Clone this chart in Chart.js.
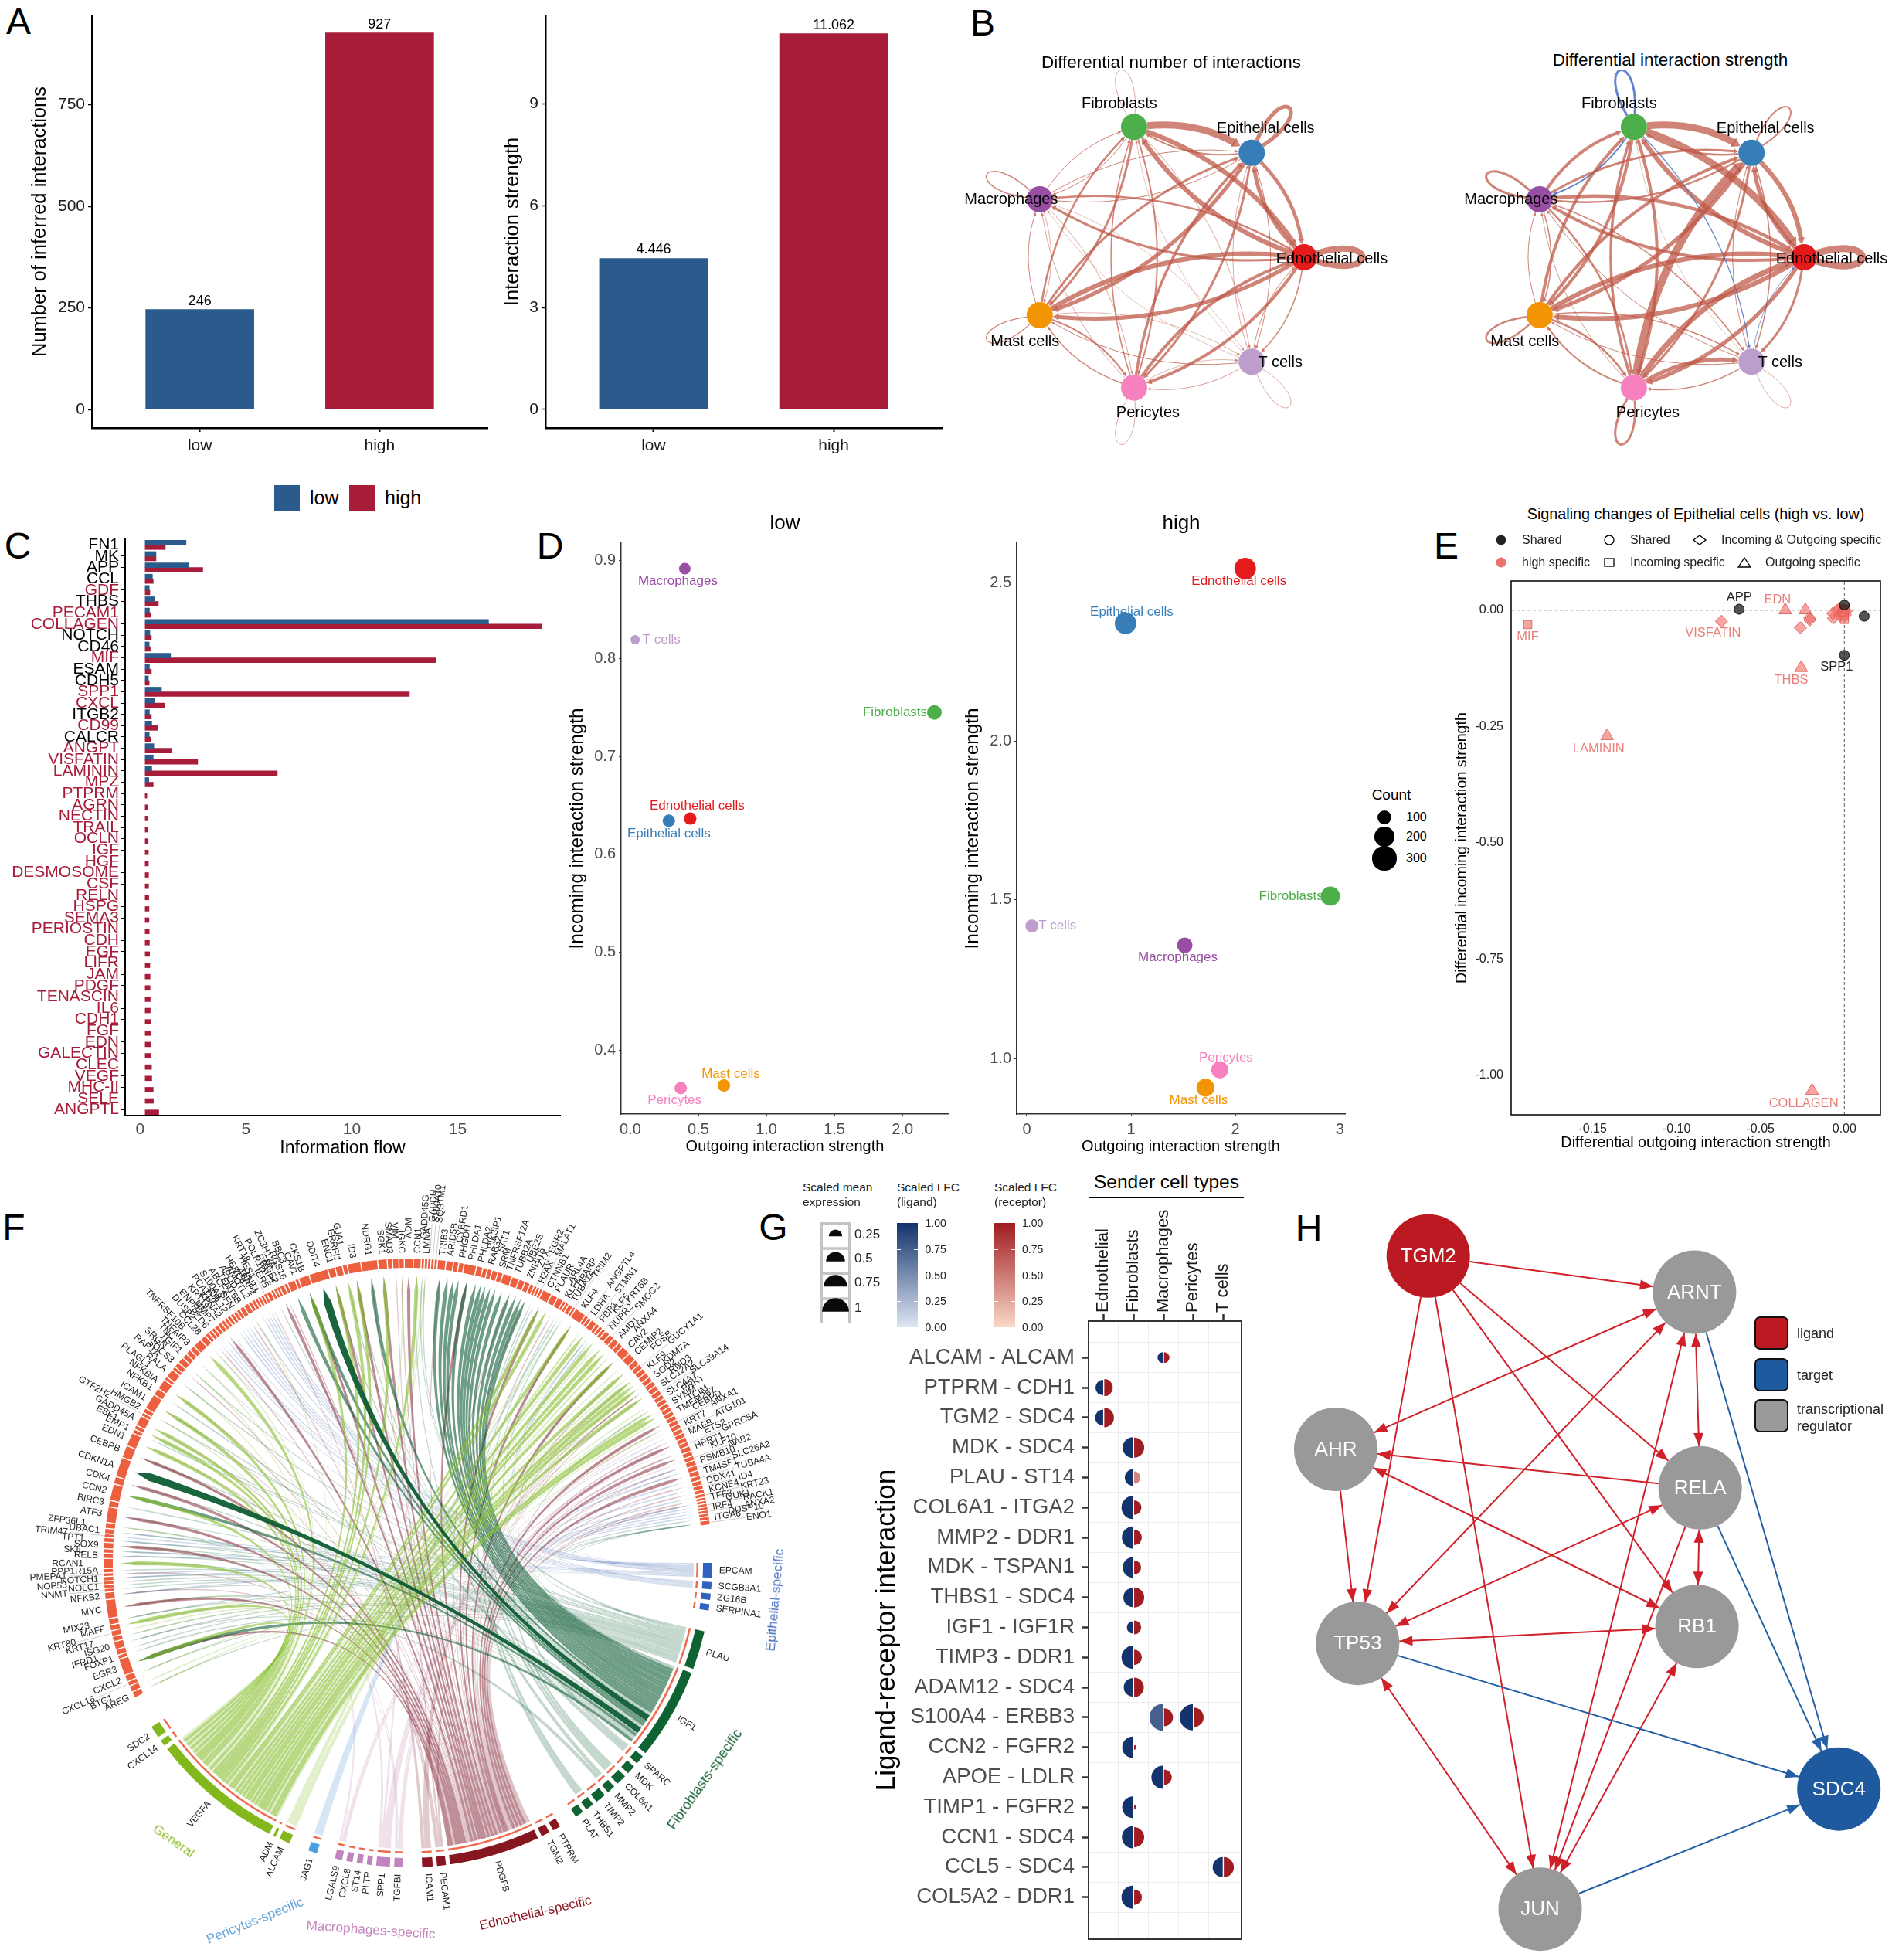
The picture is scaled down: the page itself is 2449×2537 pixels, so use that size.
<!DOCTYPE html>
<html lang="en">
<head>
<meta charset="UTF-8" />
<title>Cell communication panels</title>
<script src="https://cdn.jsdelivr.net/npm/chart.js"></script>
<style>
  html, body { margin: 0; background: #fff; }
  body { position: relative; width: 2449px; height: 2537px; overflow: hidden; font-family: "Liberation Sans", Arial, sans-serif; }
  canvas { position: absolute; }
  .t { position: absolute; white-space: nowrap; line-height: 1; }
</style>
</head>
<body>
<script>
// panel A
const aGroups = ["low", "high"];
const aCounts = [246, 927];
const aStrength = [4.446, 11.062];
const aCountTicks = [0, 250, 500, 750];
const aStrengthTicks = [0, 3, 6, 9];

// panel B, widths read from the edge thickness, negative = blue (decreased)
const cellTypes = ["Ednothelial cells", "Epithelial cells", "Fibroblasts", "Macrophages", "Mast cells", "Pericytes", "T cells"];
const cellColors = ["#E41A1C", "#377EB8", "#4DAF4A", "#984EA3", "#F29403", "#F781BF", "#BC9DCC"];
const diffNumber = [
  [8, 5, 6, 3, 5, 4, 1.5],
  [4.5, 5, 2, 1, 5, 3, 1],
  [6, 9, 0.7, 1, 3, 2, 0.7],
  [2.5, 1, 1, 1.5, 0.7, 0.7, 0.5],
  [6, 3, 2.5, 1, 1.2, 2, 0.6],
  [4, 3.5, 1.5, 0.7, 1.5, 0.7, 0.6],
  [1, 0.7, 0.5, 0.5, 1, 0.8, 0.7]
];
const diffStrength = [
  [9, 5, 6, 4, 6, 5, 3],
  [6, 2, 2.5, 2.5, 5, 3, 1.5],
  [9, 9, -3, -2, 4, 4, -1.2],
  [4.5, 3, 4, 3, 1.5, 2.5, 1.5],
  [6, 4, 4, 1, 2.5, 2.5, 1.5],
  [7, 10, 3.5, 0.8, 2, 3, 5],
  [-0.8, 1, 0.5, 1, 1, 1.5, 0.7]
];

// panel C
const cPathways = ["FN1", "MK", "APP", "CCL", "GDF", "THBS", "PECAM1", "COLLAGEN", "NOTCH", "CD46", "MIF", "ESAM", "CDH5", "SPP1", "CXCL", "ITGB2", "CD99", "CALCR", "ANGPT", "VISFATIN", "LAMININ", "MPZ", "PTPRM", "AGRN", "NECTIN", "TRAIL", "OCLN", "IGF", "HGF", "DESMOSOME", "CSF", "RELN", "HSPG", "SEMA3", "PERIOSTIN", "CDH", "EGF", "LIFR", "JAM", "PDGF", "TENASCIN", "IL6", "CDH1", "FGF", "EDN", "GALECTIN", "CLEC", "VEGF", "MHC-II", "SELE", "ANGPTL"];
const cLow = [1.95, 0.53, 2.07, 0.36, 0.21, 0.47, 0.22, 16.24, 0.24, 0.21, 1.22, 0.22, 0.17, 0.79, 0.47, 0.22, 0.33, 0.21, 0.43, 0.40, 0.33, 0.19];
const cHigh = [0.97, 0.53, 2.74, 0.40, 0.24, 0.64, 0.28, 18.74, 0.31, 0.26, 13.76, 0.31, 0.21, 12.5, 0.95, 0.31, 0.60, 0.29, 1.26, 2.5, 6.26, 0.40, 0.10, 0.13, 0.14, 0.15, 0.16, 0.17, 0.17, 0.18, 0.18, 0.19, 0.20, 0.20, 0.21, 0.22, 0.23, 0.24, 0.25, 0.25, 0.26, 0.26, 0.27, 0.28, 0.30, 0.30, 0.32, 0.33, 0.40, 0.41, 0.66];
const cSharedNames = ["FN1", "MK", "APP", "CCL", "THBS", "NOTCH", "CD46", "ESAM", "CDH5", "ITGB2", "CALCR"];
const cTicks = [0, 5, 10, 15];

// panel D
const dLowOut = [0.44, 0.283, 2.235, 0.40, 0.687, 0.37, 0.035];
const dLowIn = [0.6365, 0.6343, 0.7448, 0.8916, 0.3642, 0.3615, 0.819];
const dLowCount = [80, 80, 110, 70, 80, 80, 45];
const dHighOut = [2.093, 0.947, 2.91, 1.514, 1.713, 1.85, 0.05];
const dHighIn = [2.545, 2.372, 1.512, 1.357, 0.908, 0.9645, 1.418];
const dHighCount = [240, 240, 190, 125, 165, 150, 90];
const dLowXTicks = [0, 0.5, 1, 1.5, 2];
const dLowYTicks = [0.4, 0.5, 0.6, 0.7, 0.8, 0.9];
const dHighXTicks = [0, 1, 2, 3];
const dHighYTicks = [1, 1.5, 2, 2.5];
const countLegend = [100, 200, 300];

// panel E
const eSharedX = [-0.0627, 0, 0, 0.0118];
const eSharedY = [0.002, -0.097, 0.011, -0.013];
const eTriX = [-0.1414, -0.0352, -0.0232, -0.0257, -0.0192];
const eTriY = [-0.2705, 0, 0, -0.124, -1.033];
const eSquareX = [-0.1887, 0, 0, -0.001, 0.0005];
const eSquareY = [-0.031, -0.02, -0.012, -0.005, 0.002];
const eDiamondX = [-0.0732, -0.0262, -0.0206, -0.0206, -0.0065, -0.0069, -0.0042, -0.003, -0.0015, -0.0005, 0.001, -0.0025, 0.0005];
const eDiamondY = [-0.024, -0.038, -0.017, -0.021, -0.017, -0.007, -0.001, 0.003, -0.006, 0.001, -0.002, -0.012, -0.01];
const eXTicks = [-0.15, -0.1, -0.05, 0];
const eYTicks = [-1, -0.75, -0.5, -0.25, 0];

// panel F, ligand sectors in clockwise order
const fEpithelial = ["EPCAM", "SCGB3A1", "ZG16B", "SERPINA1"];
const fEpithelialW = [2.8, 1.4, 1.2, 1.2];
const fFibroblasts = ["PLAU", "IGF1", "SPARC", "MDK", "COL6A1", "MMP2", "TIMP2", "THBS1", "PLAT"];
const fFibroblastsW = [7.4, 17.5, 1.7, 1.7, 2, 1.6, 2, 1.6, 1.6];
const fEdnothelial = ["PTPRM", "TGM2", "PDGFB", "PECAM1", "ICAM1"];
const fEdnothelialW = [1.5, 1.6, 17.3, 1.7, 2];
const fMacrophages = ["TGFBI", "SPP1", "PLTP", "ST14", "CXCL8", "LGALS9"];
const fMacrophagesW = [1.6, 2.6, 1, 1.1, 1.2, 1.4];
const fPericytes = ["JAG1"];
const fPericytesW = [1.7];
const fGeneral = ["ALCAM", "ADM", "VEGFA", "CXCL14", "SDC2"];
const fGeneralW = [2.1, 0.5, 25.2, 1.2, 2.3];

const fReceivers = [
  "AREG", "BTG1", "CXCL16", "CXCL2", "EGR3", "FOXP1", "IFRD1", "ISG20", "KRT17", "KRT80",
  "MAFF", "MIX23", "MYC", "NFKB2", "NNMT", "NOLC1", "NOP53", "NOTCH1", "PMEPA1", "PPP1R15A",
  "RCAN1", "RELB", "SKIL", "SOX9", "TPT1", "TRIM47", "UBAC1", "ZFP36L1", "ATF3", "BIRC3",
  "CCN2", "CDK4", "CDKN1A", "CEBPB", "EDN1", "EMP1", "ESF1", "GADD45A", "GTF2H2", "HMGB2",
  "ICAM1", "NFKB1", "NFKBIA", "PLAGL1", "RALA", "RAP1A", "SOCS3", "SRGN", "TGIF1", "TNC",
  "TNFAIP3", "TNFRSF10B", "CCL28", "DUSP2", "FZD6", "ENPP2", "MMP7", "KRT19", "KPNA2", "PCAT19",
  "RPL12", "S100A9", "SFN", "ABCF2", "TENT5B", "APOD", "AMOTL2", "HERC4", "ASAP2", "HINT1",
  "HES1", "KRT18", "IER5", "POLR1D", "PBXIP1", "RGS2", "ZC3H12A", "RGS16", "BBC3", "CAV1",
  "CKS1B", "DDIT4", "ENC1", "ERRFI1", "GJA1", "ID3", "NDRG1", "SGK1", "SMAD3", "VIM",
  "IGKC", "ADM", "CCN1", "GADD45G", "LMNA", "GAPDH", "S100A10", "SQSTM1", "TRIB3", "ARID5B",
  "CYBRD1", "PHGDH", "PHLDA1", "PHLDA2", "PIK3IP1", "RAB32", "SAT1", "SRM", "TNFRSF12A", "TUBB2A",
  "UBE2S", "ZNHIT6", "ZYX", "EGR2", "H2AX", "MALAT1", "CTNNB1", "PLAUR", "ARL4A", "KLF6",
  "TIPARP", "TUBA1A", "TRIM2", "KLF4", "ANGPTL4", "LDHA", "STMN1", "FBP1", "KLF5", "KRT6B",
  "NUPR2", "SMOC2", "AMD1", "ANXA4", "CAV2", "CEMIP2", "FOSB", "GUCY1A1", "KLF9", "KDM7A",
  "SOD2", "RND3", "SLC12A2", "SLC39A14", "SLC4A7", "PRKY", "SYNM", "TCIM", "TMEM267", "CEBPD",
  "ANXA1", "KRT7", "ATG101", "MAFB", "ETS2", "GPRC5A", "HPRT1", "KLF10", "NAB2", "PSMB10",
  "SLC26A2", "TM4SF1", "TUBA4A", "DDX41", "ID4", "KCNE4", "KRT23", "TFF3", "GUK1", "RACK1",
  "IRF4", "ANXA2", "DUSP10", "ITGA6", "ENO1"
];
const fReceiverW = [
  1, 1, 0.7, 1.1, 3, 0.6, 0.9, 1.3, 0.8, 0.9,
  0.9, 1, 3.4, 1.2, 0.5, 0.5, 0.5, 0.6, 0.5, 0.6,
  1.7, 0.8, 0.6, 1, 0.7, 0.5, 0.8, 0.9, 2.8, 1,
  3, 1.2, 3.6, 2.2, 2.4, 0.6, 0.6, 1.8, 0.5, 0.7,
  2.8, 1.2, 1.8, 0.5, 1.5, 0.5, 0.8, 1, 0.8, 0.8,
  0.8, 1.5, 1, 0.6, 0.5, 0.5, 0.6, 0.6, 0.5, 0.5,
  0.5, 0.5, 0.5, 0.5, 0.7, 0.8, 0.5, 0.5, 0.4, 0.4,
  0.4, 0.4, 0.7, 0.4, 0.4, 0.4, 0.7, 0.5, 1.3, 0.5,
  1.9, 3.5, 1.2, 1.2, 0.7, 2.4, 3, 1.6, 0.8, 1,
  0.8, 1.5, 1.3, 0.4, 0.4, 0.4, 0.4, 0.4, 1.4, 1.2,
  0.8, 0.8, 2.2, 1, 0.7, 0.7, 0.9, 0.8, 1.6, 1.2,
  1, 0.8, 0.6, 0.4, 0.4, 0.4, 1.6, 1.1, 1, 0.4,
  0.4, 0.7, 0.4, 2, 0.5, 0.5, 1, 0.5, 0.5, 0.5,
  0.8, 0.9, 1, 0.8, 1.6, 1.4, 0.9, 0.8, 0.8, 0.8,
  0.8, 0.8, 0.8, 0.8, 0.7, 0.7, 0.7, 0.7, 0.7, 0.7,
  0.7, 0.7, 0.7, 0.7, 0.7, 0.7, 0.8, 0.7, 0.7, 0.8,
  0.8, 0.8, 0.7, 0.7, 0.6, 0.6, 0.5, 0.4, 0.4, 0.4,
  0.4, 0.4, 0.4, 0.5, 0.7
];
const fOuterTier = ["KRT80", "CXCL16", "NNMT", "NOP53", "PMEPA1", "TRIM47", "GTF2H2", "GAPDH", "SQSTM1", "S100A10", "MALAT1", "EGR2", "TRIM2", "ANGPTL4", "STMN1", "KRT6B", "SMOC2", "GUCY1A1", "SLC39A14", "ANXA1", "ATG101", "GPRC5A", "NAB2", "SLC26A2", "TUBA4A", "ID4", "KRT23", "RACK1", "ANXA2", "ENO1", "KRT18"];

// panel F links, grouped by how strong the ribbon looks
const igf1Strong = ["CDKN1A", "DDIT4"];
const igf1Mid = ["CCN2", "EGR3", "BBC3", "CKS1B", "NDRG1", "TRIB3", "ARID5B", "CYBRD1", "PHGDH", "PHLDA1", "PHLDA2", "PIK3IP1", "RAB32", "SAT1", "SRM", "TNFRSF12A", "TUBB2A", "UBE2S", "ZNHIT6", "ZYX"];
const igf1Weak = ["FOXP1", "MYC", "RCAN1", "ZFP36L1", "CDK4", "CEBPB", "ENC1", "GJA1", "ID3", "KLF4", "CAV2", "ENO1", "NFKB1", "ICAM1"];
const plauWeak = ["AREG", "CXCL2", "IFRD1", "ISG20", "KRT17", "MAFF", "MIX23", "NFKB2", "NNMT", "NOLC1", "NOP53", "NOTCH1", "PPP1R15A", "RELB", "SKIL", "SOX9", "TPT1", "UBAC1", "ATF3", "BIRC3", "EMP1", "ESF1", "HMGB2", "RALA", "SRGN", "ENO1", "ITGA6", "GADD45G", "LMNA"];
const vegfaMid = ["RCAN1", "EGR3", "MAFF", "EDN1", "ESF1", "GADD45A", "ICAM1", "NFKBIA", "TNFRSF10B", "CCN2", "CKS1B", "ENC1", "GJA1", "ID3", "SGK1", "CCN1", "CTNNB1", "PLAUR", "KLF4", "STMN1", "KRT6B", "SMOC2", "AMD1", "CAV2", "FOSB", "KLF9", "KDM7A", "SOD2", "SLC12A2", "SYNM", "TCIM"];
const vegfaWeak = ["AREG", "BTG1", "CXCL2", "KRT17", "KRT80", "MIX23", "MYC", "SOX9", "ZFP36L1", "CEBPB", "HMGB2", "RALA", "SRGN", "TNC", "CCL28", "APOD", "IGKC", "GADD45G", "LMNA", "TIPARP", "TUBA1A", "LDHA", "FBP1", "NUPR2", "ANXA4", "CEMIP2", "GUCY1A1", "RND3", "SLC4A7", "PRKY", "TMEM267", "ANXA1"];
const pdgfbMid = ["CEBPB", "ATF3", "SOX9", "MYC", "EGR3", "CDK4", "RGS2", "KRT19", "CKS1B", "ENC1", "ID3", "SGK1", "ADM", "PHLDA1", "CTNNB1", "KLF4", "CAV2", "CEBPD", "ETS2", "KLF10", "TM4SF1"];
const pdgfbWeak = ["NFKB2", "PMEPA1", "EDN1", "NFKBIA", "SOCS3", "DUSP2", "TENT5B", "ZC3H12A", "NDRG1", "IGKC", "TRIB3", "TUBB2A", "ZYX", "ARL4A", "FOSB", "KLF9", "RND3", "SLC12A2", "MAFB", "HPRT1", "PSMB10", "DDX41", "KCNE4", "TFF3", "GUK1"];
const epcamWeak = ["NFKB2", "NOTCH1", "PMEPA1", "RELB", "SKIL", "TPT1", "TRIM47", "UBAC1", "HERC4", "ASAP2", "HINT1", "HES1", "S100A9", "SFN", "ABCF2", "APOD", "RPL12", "MMP7", "FZD6", "PSMB10", "TUBA4A", "ID4", "KRT23", "GUK1", "RACK1", "IRF4", "ANXA2", "DUSP10", "MIX23", "KLF5", "FBP1", "SLC26A2"];
const scgbWeak = ["TNC", "CCL28", "ENPP2", "KPNA2", "ATG101"];
const tgfbiWeak = ["RND3", "CEBPD", "KRT7", "MYC", "ATF3"];
const spp1Weak = ["HPRT1", "NAB2", "CEBPB", "CCN1", "ETS2"];
const lgals9Weak = ["GPRC5A", "RCAN1", "SLC26A2"];
const jag1Mid = ["TIPARP"];
const pecam1Weak = ["ANXA1", "ICAM1", "GADD45A", "VIM"];
const icam1Weak = ["RND3", "SOD2", "KRT18"];
const sparcWeak = ["ENO1", "POLR1D"];
const col6a1Weak = ["TUBA1A", "H2AX", "PRKY"];
const mmp2Weak = ["CCN1", "ISG20"];
const thbs1Weak = ["KLF6", "MALAT1"];
const alcamWeak = ["LDHA", "ANXA4"];

// panel G
const gCols = ["Ednothelial", "Fibroblasts", "Macrophages", "Pericytes", "T cells"];
const gRows = ["ALCAM - ALCAM", "PTPRM - CDH1", "TGM2 - SDC4", "MDK - SDC4", "PLAU - ST14", "COL6A1 - ITGA2", "MMP2 - DDR1", "MDK - TSPAN1", "THBS1 - SDC4", "IGF1 - IGF1R", "TIMP3 - DDR1", "ADAM12 - SDC4", "S100A4 - ERBB3", "CCN2 - FGFR2", "APOE - LDLR", "TIMP1 - FGFR2", "CCN1 - SDC4", "CCL5 - SDC4", "COL5A2 - DDR1"];
const gPairRow = [1, 2, 3, 4, 5, 6, 7, 8, 9, 10, 11, 12, 13, 13, 14, 15, 16, 17, 18, 19];
const gPairCol = [3, 1, 1, 2, 2, 2, 2, 2, 2, 2, 2, 2, 3, 4, 2, 3, 2, 2, 5, 2];
const gLigandExpr = [0.16, 0.33, 0.36, 0.6, 0.38, 0.74, 0.69, 0.59, 0.52, 0.21, 0.74, 0.48, 1, 0.95, 0.65, 0.74, 0.65, 0.69, 0.56, 0.74];
const gReceptorExpr = [0.16, 0.4, 0.52, 0.56, 0.21, 0.29, 0.33, 0.27, 0.56, 0.27, 0.33, 0.52, 0.44, 0.52, 0.03, 0.33, 0.03, 0.56, 0.56, 0.33];
const gLigandLfc = [1, 1, 1, 1, 1, 1, 1, 1, 1, 1, 1, 1, 0.75, 1, 1, 1, 1, 1, 1, 1];
const gReceptorLfc = [1, 1, 1, 1, 0.45, 1, 1, 1, 1, 1, 1, 1, 1, 1, 1, 1, 1, 1, 1, 1];
const gSizeLegend = [0.25, 0.5, 0.75, 1];
const gLfcTicks = ["1.00", "0.75", "0.50", "0.25", "0.00"];

// panel H
const hNodes = ["TGM2", "ARNT", "AHR", "RELA", "TP53", "RB1", "JUN", "SDC4"];
const hKinds = ["ligand", "tr", "tr", "tr", "tr", "tr", "tr", "target"];
const hOneWay = [["TGM2", "ARNT"], ["TGM2", "TP53"], ["TGM2", "JUN"], ["TGM2", "RELA"], ["TGM2", "RB1"], ["AHR", "TP53"], ["RELA", "AHR"], ["RELA", "JUN"]];
const hBothWays = [["ARNT", "AHR"], ["ARNT", "TP53"], ["ARNT", "JUN"], ["ARNT", "RELA"], ["AHR", "RB1"], ["RELA", "TP53"], ["RELA", "RB1"], ["RB1", "TP53"], ["RB1", "JUN"], ["TP53", "JUN"]];
const hToTarget = [["ARNT", "SDC4"], ["RELA", "SDC4"], ["TP53", "SDC4"], ["JUN", "SDC4"]];

// layout only, no data below this line
const FONT = '"Liberation Sans", Arial, sans-serif';
Chart.defaults.animation = false;
Chart.defaults.responsive = false;
Chart.defaults.events = [];
Chart.defaults.devicePixelRatio = 1;
Chart.defaults.font.family = FONT;
Chart.defaults.layout.autoPadding = false;
Chart.defaults.plugins.legend.display = false;
Chart.defaults.plugins.tooltip.enabled = false;

const BLUE = "#2A5B8C", RED = "#A71D39", GREY_TXT = "#4d4d4d";

function txt(s, x, y, o = {}) {
  const d = document.createElement("div");
  d.className = "t";
  d.textContent = s;
  const ax = o.anchor === "l" ? "0" : "-50%";
  d.style.cssText = `left:${x}px;top:${y}px;font-size:${o.size || 18}px;color:${o.color || "#000"};transform:translate(${ax},-50%) rotate(${o.rot || 0}deg)`;
  document.body.appendChild(d);
}
function box(x, y, w, h, css) {
  const d = document.createElement("div");
  d.style.cssText = `position:absolute;left:${x}px;top:${y}px;width:${w}px;height:${h}px;box-sizing:border-box;${css}`;
  document.body.appendChild(d);
}
function canvasAt(x0, y0, x1, y1) {
  const c = document.createElement("canvas");
  c.width = x1 - x0; c.height = y1 - y0;
  c.style.left = x0 + "px"; c.style.top = y0 + "px";
  document.body.appendChild(c);
  return c;
}
// charts with real axes: fix the plot area to given page pixels
// keep >20px of canvas round the area, or the tick label padding pushes it in
function plotChart(rect, area, cfg) {
  const [x0, y0, x1, y1] = rect;
  const o = cfg.options;
  const topAxis = o.scales.x.position === "top";
  o.layout = { padding: { left: 0, bottom: topAxis ? y1 - area.b : 0, top: topAxis ? 0 : area.t - y0, right: x1 - area.r } };
  o.scales.x.afterFit = s => { s.height = topAxis ? area.t - y0 : y1 - area.b; };
  o.scales.y.afterFit = s => { s.width = area.l - x0; };
  return new Chart(canvasAt(x0, y0, x1, y1), cfg);
}
const setTicks = arr => s => { s.ticks = arr.map(v => ({ value: v })); };
function yTitle(text, size, cx, x0, color) {
  return { display: true, text, color: color || "#000", font: { size }, padding: { top: cx - x0 - size * 0.6, bottom: 0 } };
}
function xTitle(text, size, cy, y1, color) {
  return { display: true, text, color: color || "#000", font: { size }, padding: { top: 0, bottom: y1 - cy - size * 0.6 } };
}
function hiddenScale(min, max, reverse) {
  return { type: "linear", display: false, min, max, reverse: !!reverse };
}
function arrowHead(ctx, x, y, ang, len, wid, color) {
  ctx.save();
  ctx.translate(x, y); ctx.rotate(ang);
  ctx.fillStyle = color;
  ctx.beginPath();
  ctx.moveTo(0, 0); ctx.lineTo(-len, wid / 2); ctx.lineTo(-len, -wid / 2);
  ctx.closePath(); ctx.fill();
  ctx.restore();
}

// ---- panel letters
[["A", 24, 28], ["B", 1272, 30], ["C", 23, 707], ["D", 712, 707], ["E", 1872, 707], ["F", 18, 1589], ["G", 1001, 1589], ["H", 1694, 1590]].forEach(p => txt(p[0], p[1], p[2], { size: 48 }));

// ---- panel A
const valueLabels = {
  id: "valueLabels",
  afterDatasetsDraw(chart) {
    const ctx = chart.ctx;
    const vals = chart.data.datasets[0].data;
    ctx.font = "18px " + FONT; ctx.fillStyle = "#000"; ctx.textAlign = "center"; ctx.textBaseline = "bottom";
    chart.getDatasetMeta(0).data.forEach((b, i) => ctx.fillText(String(vals[i].y), b.x, b.y - 2));
  }
};
function panelA(rect, area, values, ticks, ymin, ymax, title, titleX) {
  plotChart(rect, area, {
    type: "bar",
    data: { datasets: [{ data: values.map((v, i) => ({ x: i + 1, y: v })), backgroundColor: [BLUE, RED], barThickness: 140 }] },
    options: {
      scales: {
        x: {
          type: "linear", offset: false, min: 0.4, max: 2.6, afterBuildTicks: setTicks([1, 2]),
          border: { color: "#000", width: 2.5 }, grid: { offset: false, drawOnChartArea: false, tickColor: "#000", tickLength: 5, tickWidth: 2 },
          ticks: { color: "#1a1a1a", font: { size: 21 }, padding: 6, callback: v => aGroups[v - 1] }
        },
        y: {
          min: ymin, max: ymax, afterBuildTicks: setTicks(ticks),
          border: { color: "#000", width: 2.5 }, grid: { drawOnChartArea: false, tickColor: "#000", tickLength: 5, tickWidth: 1.5 },
          ticks: { color: "#1a1a1a", font: { size: 21 }, padding: 4 },
          title: yTitle(title, 25.5, titleX, rect[0])
        }
      }
    },
    plugins: [valueLabels]
  });
}
panelA([10, -10, 665, 600], { l: 119, t: 20, r: 631, b: 554 }, aCounts, aCountTicks, -45.6, 970, "Number of inferred interactions", 51.5);
panelA([640, -10, 1250, 600], { l: 706, t: 20, r: 1219, b: 554 }, aStrength, aStrengthTicks, -0.546, 11.6, "Interaction strength", 664);
box(355, 628, 33, 33, "background:" + BLUE);
box(452, 628, 34, 33, "background:" + RED);
txt("low", 401, 644, { size: 25, anchor: "l" });
txt("high", 498, 644, { size: 25, anchor: "l" });

// ---- panel B
function netPlugin(matrix) {
  const RED_E = "rgba(188,84,66,0.72)", BLUE_E = "rgba(74,112,196,0.85)";
  return {
    id: "net",
    beforeDatasetsDraw(chart) {
      const ctx = chart.ctx, pts = chart.getDatasetMeta(0).data, r = 17;
      matrix.forEach((row, i) => row.forEach((v, j) => {
        const color = v < 0 ? BLUE_E : RED_E, w = Math.abs(v);
        const a = pts[i], b = pts[j];
        ctx.strokeStyle = color; ctx.lineWidth = w; ctx.lineCap = "butt";
        ctx.beginPath();
        if (i === j) {
          const cx = chart.scales.x.getPixelForValue(0), cy = chart.scales.y.getPixelForValue(0);
          const d = Math.atan2(a.y - cy, a.x - cx), L = 100;
          const at = (ang, len) => [a.x + Math.cos(ang) * len, a.y + Math.sin(ang) * len];
          const p0 = at(d - 0.3, r), c1 = at(d - 0.3, L), c2 = at(d + 0.3, L), p1 = at(d + 0.3, r);
          ctx.moveTo(p0[0], p0[1]); ctx.bezierCurveTo(c1[0], c1[1], c2[0], c2[1], p1[0], p1[1]);
          ctx.stroke();
          return;
        }
        const dx = b.x - a.x, dy = b.y - a.y;
        const mx = (a.x + b.x) / 2 + dy * 0.16, my = (a.y + b.y) / 2 - dx * 0.16;
        const sA = Math.atan2(my - a.y, mx - a.x), eA = Math.atan2(b.y - my, b.x - mx);
        const head = 4 + w * 0.7;
        const ex = b.x - Math.cos(eA) * (r + head * 0.8), ey = b.y - Math.sin(eA) * (r + head * 0.8);
        ctx.moveTo(a.x + Math.cos(sA) * r, a.y + Math.sin(sA) * r);
        ctx.quadraticCurveTo(mx, my, ex, ey);
        ctx.stroke();
        arrowHead(ctx, b.x - Math.cos(eA) * r, b.y - Math.sin(eA) * r, eA, head, 3 + w * 1.2, color);
      }));
    }
  };
}
function panelB(x0, matrix) {
  const w = 545, h = 530, top = 90;
  const cx = 258, cy = 243; // circle centre inside this canvas
  new Chart(canvasAt(x0, top, x0 + w, top + h), {
    type: "scatter",
    data: {
      datasets: [{
        data: cellTypes.map((c, i) => ({ x: Math.cos(2 * Math.PI * i / 7), y: -Math.sin(2 * Math.PI * i / 7) })),
        backgroundColor: cellColors, pointRadius: 17, borderWidth: 0
      }]
    },
    options: { scales: { x: hiddenScale(-cx / 180, (w - cx) / 180), y: hiddenScale(-cy / 173, (h - cy) / 173, true) } },
    plugins: [netPlugin(matrix)]
  });
}
panelB(1250, diffNumber);
panelB(1897, diffStrength);
const bLabelDx = [36, 18, -19, -37, -19, 18, 37];
const bLabelDy = [1, -33, -31, -1, 33, 31, 0];
[0, 647].forEach(off => cellTypes.forEach((c, i) => {
  const a = 2 * Math.PI * i / 7;
  txt(c, 1508 + off + 180 * Math.cos(a) + bLabelDx[i], 333 - 173 * Math.sin(a) + bLabelDy[i], { size: 20 });
}));
txt("Differential number of interactions", 1516, 81, { size: 22.5 });
txt("Differential interaction strength", 2162, 78, { size: 22.5 });

// ---- panel C
plotChart([10, 665, 755, 1505], { l: 162, t: 698, r: 725, b: 1444 }, {
  type: "bar",
  data: {
    labels: cPathways,
    datasets: [
      { data: cLow, backgroundColor: BLUE, barThickness: 6 },
      { data: cHigh, backgroundColor: RED, barThickness: 6 }
    ]
  },
  options: {
    indexAxis: "y",
    scales: {
      x: {
        type: "linear", min: -0.927, max: 19.62, afterBuildTicks: setTicks(cTicks),
        border: { color: "#000", width: 2 }, grid: { drawOnChartArea: false, drawTicks: false, tickLength: 0 },
        ticks: { color: GREY_TXT, font: { size: 21 }, padding: 6, labelOffset: -6, maxRotation: 0 },
        title: xTitle("Information flow", 23, 1487, 1505)
      },
      y: {
        type: "category",
        border: { color: "#000", width: 2 }, grid: { offset: false, drawOnChartArea: false, tickColor: "#000", tickLength: 5 },
        ticks: { autoSkip: false, padding: 3, font: { size: 21 }, color: c => cSharedNames.includes(cPathways[c.index]) ? "#000" : RED }
      }
    }
  }
});

// ---- panel D
const dLowOffX = [9, 0, -51, -9, 9, -8, 34], dLowOffY = [-16, 17, 0, 16, -15, 16, 0];
const dHighOffX = [-8, 8, -51, -9, -9, 8, 33], dHighOffY = [16, -15, 0, 16, 16, -15, 0];
function radiusFromCount(n) { return Math.sqrt(n) * 0.9; }
function pointLabels(offX, offY) {
  return {
    id: "pointLabels",
    afterDatasetsDraw(chart) {
      const ctx = chart.ctx;
      ctx.font = "17px " + FONT; ctx.textAlign = "center"; ctx.textBaseline = "middle";
      chart.getDatasetMeta(0).data.forEach((p, i) => {
        ctx.fillStyle = cellColors[i];
        ctx.fillText(cellTypes[i], p.x + offX[i], p.y + offY[i]);
      });
    }
  };
}
function panelD(rect, area, xs, ys, counts, xr, yr, xt, yt, digitsX, offX, offY, yTitleX) {
  plotChart(rect, area, {
    type: "bubble",
    data: { datasets: [{ data: xs.map((x, i) => ({ x, y: ys[i], r: radiusFromCount(counts[i]) })), backgroundColor: cellColors, borderWidth: 0 }] },
    options: {
      scales: {
        x: {
          type: "linear", min: xr[0], max: xr[1], afterBuildTicks: setTicks(xt),
          border: { color: "#333", width: 1.5 }, grid: { drawOnChartArea: false, tickColor: "#333", tickLength: 3 },
          ticks: { color: GREY_TXT, font: { size: 20 }, padding: 5, maxRotation: 0, callback: v => v.toFixed(digitsX) },
          title: xTitle("Outgoing interaction strength", 20, 1484, rect[3])
        },
        y: {
          min: yr[0], max: yr[1], afterBuildTicks: setTicks(yt),
          border: { color: "#333", width: 1.5 }, grid: { drawOnChartArea: false, tickColor: "#333", tickLength: 3 },
          ticks: { color: GREY_TXT, font: { size: 20 }, padding: 4, callback: v => v.toFixed(1) },
          title: yTitle("Incoming interaction strength", 24.3, yTitleX, rect[0])
        }
      }
    },
    plugins: [pointLabels(offX, offY)]
  });
}
panelD([720, 670, 1255, 1505], { l: 804, t: 703, r: 1228, b: 1442 }, dLowOut, dLowIn, dLowCount, [-0.068, 2.34], [0.335, 0.9176], dLowXTicks, dLowYTicks, 1, dLowOffX, dLowOffY, 747);
panelD([1235, 670, 1770, 1505], { l: 1316, t: 703, r: 1741, b: 1442 }, dHighOut, dHighIn, dHighCount, [-0.096, 3.05], [0.825, 2.625], dHighXTicks, dHighYTicks, 0, dHighOffX, dHighOffY, 1259);
txt("low", 1016, 676, { size: 26 });
txt("high", 1529, 676, { size: 26 });
txt("Count", 1801, 1028, { size: 19 });
[1058, 1083, 1111].forEach((y, i) => {
  const r = radiusFromCount(countLegend[i]);
  box(1792 - r, y - r, 2 * r, 2 * r, "background:#000;border-radius:50%");
  txt(String(countLegend[i]), 1820, y, { size: 16, anchor: "l" });
});

// ---- panel E
const eFill = "rgba(239,112,102,0.62)", eEdge = "rgba(224,92,86,0.9)", eText = "#E9817A";
const eLabelNames = ["APP", "SPP1", "EDN", "THBS", "LAMININ", "COLLAGEN", "MIF", "VISFATIN"];
const eLabelDx = [0, -10, -10, -13, -11, -11, 0, -11], eLabelDy = [-15, 15, -13.5, 16, 17, 17, 16, 15];
const toPts = (xs, ys) => xs.map((x, i) => ({ x, y: ys[i] }));
const eLabels = {
  id: "eLabels",
  afterDatasetsDraw(chart) {
    const ctx = chart.ctx;
    const anchors = [[0, 0], [0, 1], [1, 1], [1, 3], [1, 0], [1, 4], [2, 0], [3, 0]];
    ctx.font = "16.5px " + FONT; ctx.textAlign = "center"; ctx.textBaseline = "middle";
    anchors.forEach((a, i) => {
      const p = chart.getDatasetMeta(a[0]).data[a[1]];
      ctx.fillStyle = i < 2 ? "#222" : eText;
      ctx.fillText(eLabelNames[i], p.x + eLabelDx[i], p.y + eLabelDy[i]);
    });
    const ca = chart.chartArea;
    ctx.strokeStyle = "#000"; ctx.lineWidth = 1.5;
    ctx.strokeRect(ca.left, ca.top, ca.right - ca.left, ca.bottom - ca.top);
  }
};
const dashLine = pts => ({ type: "line", data: pts, borderColor: "#555", borderWidth: 1, borderDash: [4, 3], pointRadius: 0, order: 5 });
plotChart([1865, 725, 2464, 1500], { l: 1956, t: 752, r: 2434, b: 1443 }, {
  type: "scatter",
  data: {
    datasets: [
      { data: toPts(eSharedX, eSharedY), pointStyle: "circle", pointRadius: 6.5, backgroundColor: "rgba(25,25,25,0.75)", borderColor: "rgba(0,0,0,0.85)", borderWidth: 1 },
      { data: toPts(eTriX, eTriY), pointStyle: "triangle", pointRadius: 9.5, backgroundColor: eFill, borderColor: eEdge, borderWidth: 1 },
      { data: toPts(eSquareX, eSquareY), pointStyle: "rect", pointRadius: 7.5, backgroundColor: eFill, borderColor: eEdge, borderWidth: 1 },
      { data: toPts(eDiamondX, eDiamondY), pointStyle: "rectRot", pointRadius: 8, backgroundColor: eFill, borderColor: eEdge, borderWidth: 1 },
      dashLine([{ x: 0, y: -1.0847 }, { x: 0, y: 0.0627 }]),
      dashLine([{ x: -0.1986, y: 0 }, { x: 0.0215, y: 0 }])
    ]
  },
  options: {
    scales: {
      x: {
        type: "linear", min: -0.1986, max: 0.0215, afterBuildTicks: setTicks(eXTicks),
        border: { display: false }, grid: { drawOnChartArea: false, drawTicks: false },
        ticks: { color: "#222", font: { size: 16 }, padding: 9, maxRotation: 0, callback: v => v.toFixed(2) },
        title: xTitle("Differential outgoing interaction strength", 19.8, 1480, 1500)
      },
      y: {
        min: -1.0847, max: 0.0627, afterBuildTicks: setTicks(eYTicks),
        border: { display: false }, grid: { drawOnChartArea: false, drawTicks: false },
        ticks: { color: "#222", font: { size: 16 }, padding: 10, callback: v => v.toFixed(2) },
        title: yTitle("Differential incoming interaction strength", 19.7, 1893, 1865)
      }
    }
  },
  plugins: [eLabels]
});
txt("Signaling changes of Epithelial cells (high vs. low)", 2195, 666, { size: 19.8 });
function svgMark(cx, cy, inner) {
  const d = document.createElement("div");
  d.style.cssText = `position:absolute;left:${cx - 12}px;top:${cy - 12}px;width:24px;height:24px`;
  d.innerHTML = `<svg width="24" height="24" viewBox="-12 -12 24 24">${inner}</svg>`;
  document.body.appendChild(d);
}
svgMark(1943, 699, '<circle r="6.5" fill="#222"/>');
svgMark(1943, 728, '<circle r="6.5" fill="#EC7068"/>');
svgMark(2083, 699, '<circle r="6" fill="none" stroke="#000" stroke-width="1.3"/>');
svgMark(2083, 728, '<rect x="-6" y="-5" width="12" height="10" fill="none" stroke="#000" stroke-width="1.3"/>');
svgMark(2200, 699, '<path d="M-8 0L0-6L8 0L0 6Z" fill="none" stroke="#000" stroke-width="1.3"/>');
svgMark(2258, 728, '<path d="M-8 6L0-6L8 6Z" fill="none" stroke="#000" stroke-width="1.3"/>');
[["Shared", 1970, 699], ["high specific", 1970, 728], ["Shared", 2110, 699], ["Incoming specific", 2110, 728], ["Incoming & Outgoing specific", 2228, 699], ["Outgoing specific", 2285, 728]].forEach(l => txt(l[0], l[1], l[2], { size: 16, anchor: "l", color: "#222" }));

// ---- panel F
const fR = 394;
const fGroups = [
  { genes: fEpithelial, w: fEpithelialW, block: "#2F62BF", chord: "70,105,175" },
  { genes: fFibroblasts, w: fFibroblastsW, block: "#0F6332", chord: "14,92,52" },
  { genes: fEdnothelial, w: fEdnothelialW, block: "#86161F", chord: "125,28,45" },
  { genes: fMacrophages, w: fMacrophagesW, block: "#C085BF", chord: "190,130,175" },
  { genes: fPericytes, w: fPericytesW, block: "#4D9FE0", chord: "110,165,220" },
  { genes: fGeneral, w: fGeneralW, block: "#82B81B", chord: "135,190,45" }
];
const fLinkTable = [
  ["IGF1", igf1Strong, 3], ["IGF1", igf1Mid, 1.5], ["IGF1", igf1Weak, 0.45],
  ["PLAU", plauWeak, 0.4],
  ["VEGFA", vegfaMid, 1.5], ["VEGFA", vegfaWeak, 0.45],
  ["PDGFB", pdgfbMid, 1.2], ["PDGFB", pdgfbWeak, 0.45],
  ["EPCAM", epcamWeak, 0.45], ["SCGB3A1", scgbWeak, 0.3],
  ["TGFBI", tgfbiWeak, 0.35], ["SPP1", spp1Weak, 0.4], ["LGALS9", lgals9Weak, 0.3],
  ["JAG1", jag1Mid, 0.5], ["PECAM1", pecam1Weak, 0.35], ["ICAM1", icam1Weak, 0.35],
  ["SPARC", sparcWeak, 0.35], ["COL6A1", col6a1Weak, 0.4], ["MMP2", mmp2Weak, 0.4], ["THBS1", thbs1Weak, 0.4],
  ["ALCAM", alcamWeak, 0.4]
];
const rad = d => d * Math.PI / 180;
function fLayout() {
  // ligand sectors clockwise from the right, angles in degrees from 12 o'clock
  const sectors = {};
  const groupGaps = [4, 3.5, 3.7, 3.5, 3.8];
  let a = 90;
  fGroups.forEach((g, k) => {
    g.genes.forEach((name, i) => {
      sectors[name] = { a0: a, a1: a + g.w[i], color: g.block, chord: g.chord };
      a += g.w[i] + 0.8;
    });
    a += (groupGaps[k] || 0) - 0.8;
  });
  const sum = fReceiverW.reduce((p, c) => p + c, 0);
  const gap = 0.22, sweep = 198.9;
  const k = (sweep - gap * (fReceivers.length - 1)) / sum;
  const recv = {};
  let b = 243.8;
  fReceivers.forEach((name, i) => {
    recv[name] = { a0: b, a1: b + fReceiverW[i] * k };
    b += fReceiverW[i] * k + gap;
  });
  return { sectors, recv };
}
const fPlugin = {
  id: "chord",
  beforeDatasetsDraw(chart) {
    const ctx = chart.ctx, sx = chart.scales.x, sy = chart.scales.y;
    const { sectors, recv } = fLayout();
    const cx = sx.getPixelForValue(0), cy = sy.getPixelForValue(0);
    const unit = sx.getPixelForValue(1) - cx;
    const P = (r, deg) => [sx.getPixelForValue(r / fR * Math.sin(rad(deg))), sy.getPixelForValue(r / fR * Math.cos(rad(deg)))];
    const ring = (r0, r1, a0, a1, color) => {
      ctx.fillStyle = color;
      ctx.beginPath();
      ctx.arc(cx, cy, r1 / fR * unit, rad(a0 - 90), rad(a1 - 90));
      ctx.arc(cx, cy, r0 / fR * unit, rad(a1 - 90), rad(a0 - 90), true);
      ctx.closePath(); ctx.fill();
    };
    // expand link table, split each ligand sector by link value
    const byLigand = {};
    fLinkTable.forEach(row => row[1].forEach(g => {
      if (!recv[g]) return;
      (byLigand[row[0]] = byLigand[row[0]] || []).push({ gene: g, v: row[2] });
    }));
    const links = [];
    Object.keys(byLigand).forEach(name => {
      const s = sectors[name], list = byLigand[name];
      const mid = (s.a0 + s.a1) / 2;
      const delta = l => (((recv[l.gene].a0 - mid) % 360) + 360) % 360;
      list.sort((p, q) => delta(q) - delta(p));
      const total = list.reduce((p, l) => p + l.v, 0);
      let a = s.a0;
      list.forEach(l => {
        const span = (s.a1 - s.a0) * l.v / total;
        links.push({ ...l, b0: a, b1: a + span, chord: s.chord });
        a += span;
      });
    });
    links.sort((p, q) => p.v - q.v);
    links.forEach(l => {
      const t = recv[l.gene], tm = (t.a0 + t.a1) / 2;
      const half = Math.min(l.v * 1.7 + 0.2, 5.5);
      const halfDeg = half / 372 * 180 / Math.PI;
      const b0 = P(370, l.b0), b1 = P(370, l.b1);
      const tipL = P(352, tm + halfDeg), tipR = P(352, tm - halfDeg), tip = P(372, tm);
      // ribbons run in towards the centre first, then spread out to the tip
      const pull = (p, k) => [cx + (p[0] - cx) * k, cy + (p[1] - cy) * k];
      const c0 = pull(b0, 0.2), c1 = pull(tipL, 0.45), c2 = pull(tipR, 0.45), c3 = pull(b1, 0.2);
      ctx.fillStyle = `rgba(${l.chord},${Math.min(0.95, 0.12 + 0.32 * l.v)})`;
      ctx.beginPath();
      ctx.moveTo(b0[0], b0[1]);
      ctx.bezierCurveTo(c0[0], c0[1], c1[0], c1[1], tipL[0], tipL[1]);
      ctx.lineTo(tip[0], tip[1]);
      ctx.lineTo(tipR[0], tipR[1]);
      ctx.bezierCurveTo(c2[0], c2[1], c3[0], c3[1], b1[0], b1[1]);
      ctx.closePath(); ctx.fill();
    });
    // blocks and gene names
    ctx.font = "12px " + FONT; ctx.textBaseline = "middle";
    const geneText = (name, deg, r, color) => {
      const p = P(r, deg), right = ((deg % 360) + 360) % 360 < 180;
      ctx.save();
      ctx.translate(p[0], p[1]);
      ctx.rotate(rad(right ? deg - 90 : deg + 90));
      ctx.textAlign = right ? "left" : "right";
      ctx.fillStyle = color;
      ctx.fillText(name, 0, 0);
      ctx.restore();
    };
    Object.keys(sectors).forEach(name => {
      const s = sectors[name], m = (s.a0 + s.a1) / 2;
      ring(382, 394, s.a0, s.a1, s.color);
      ring(373.5, 376, s.a0, s.a1, "#EE6A4D");
      geneText(name, m, 403, "#222");
    });
    // names that would collide step out to a second ring
    let lastIn = -99, lastMid = -99;
    fReceivers.forEach(name => {
      const s = recv[name], m = (s.a0 + s.a1) / 2;
      ring(382, 394, s.a0, s.a1, "#EC5F3F");
      let r = 401;
      if (fOuterTier.includes(name)) {
        const p0 = P(396, m), p1 = P(440, m);
        ctx.strokeStyle = "#aaa"; ctx.lineWidth = 0.6;
        ctx.beginPath(); ctx.moveTo(p0[0], p0[1]); ctx.lineTo(p1[0], p1[1]); ctx.stroke();
        r = 442;
      } else if (m - lastIn >= 1.4) {
        lastIn = m;
      } else if (m - lastMid >= 1.4) {
        lastMid = m; r = 420;
      }
      geneText(name, m, r, "#222");
    });
  }
};
new Chart(canvasAt(0, 1530, 1020, 2537), {
  type: "scatter",
  data: { datasets: [{ data: fReceivers.map(() => ({ x: 0, y: 0 })), pointRadius: 0 }] },
  options: { scales: { x: hiddenScale(-528 / fR, 492 / fR), y: hiddenScale(-514 / fR, 493 / fR) } },
  plugins: [fPlugin]
});
txt("General", 225, 2383, { size: 17.2, color: "#8DBE2A", rot: 35 });
txt("Pericytes-specific", 330, 2486, { size: 17.2, color: "#66A5DB", rot: -22 });
txt("Macrophages-specific", 480, 2498, { size: 17.2, color: "#C587BF", rot: 4 });
txt("Ednothelial-specific", 693, 2476, { size: 17.2, color: "#8A1A22", rot: -13 });
txt("Fibroblasts-specific", 912, 2303, { size: 18, color: "#0F5C2E", rot: -55 });
txt("Epithelial-specific", 1003, 2071, { size: 17.2, color: "#3A66BE", rot: -85 });

// ---- panel G
const gLerp = (lo, hi, t) => "rgb(" + lo.map((c, i) => Math.round(c + (hi[i] - c) * t)).join(",") + ")";
const gNavyLo = [223, 230, 244], gNavyHi = [18, 51, 107], gRedLo = [249, 216, 200], gRedHi = [160, 28, 32];
const gRadius = v => 17.4 * Math.sqrt(v);
const halves = {
  id: "halves",
  afterDatasetsDraw(chart) {
    const ctx = chart.ctx;
    chart.getDatasetMeta(0).data.forEach((p, i) => {
      ctx.fillStyle = gLerp(gNavyLo, gNavyHi, gLigandLfc[i]);
      ctx.beginPath(); ctx.arc(p.x - 0.7, p.y, gRadius(gLigandExpr[i]), Math.PI / 2, 1.5 * Math.PI); ctx.closePath(); ctx.fill();
      ctx.fillStyle = gLerp(gRedLo, gRedHi, gReceptorLfc[i]);
      ctx.beginPath(); ctx.arc(p.x + 0.7, p.y, gRadius(gReceptorExpr[i]), -Math.PI / 2, Math.PI / 2); ctx.closePath(); ctx.fill();
    });
    const ca = chart.chartArea;
    ctx.strokeStyle = "#333"; ctx.lineWidth = 2;
    ctx.strokeRect(ca.left, ca.top, ca.right - ca.left, ca.bottom - ca.top);
  }
};
const halfStep = (a, b) => { const r = []; for (let v = a; v <= b; v += 0.5) r.push(v); return r; };
const gGrid = {
  drawOnChartArea: true, tickLength: 9, tickWidth: 2.5,
  color: c => Number.isInteger(c.tick.value) ? "transparent" : "#ececf2",
  tickColor: c => Number.isInteger(c.tick.value) ? "#333" : "transparent"
};
plotChart([1110, 1560, 1640, 2550], { l: 1409, t: 1710, r: 1607, b: 2510 }, {
  type: "scatter",
  data: { datasets: [{ data: gPairCol.map((c, i) => ({ x: c, y: gPairRow[i] })), pointRadius: 0 }] },
  options: {
    scales: {
      x: {
        type: "linear", position: "top", min: 0.492, max: 5.61, afterBuildTicks: setTicks(halfStep(1, 5.5)),
        border: { display: false }, grid: gGrid,
        ticks: { autoSkip: false, minRotation: 90, maxRotation: 90, padding: 2, labelOffset: 26, color: "#1a1a1a", font: { size: 22 }, callback: v => Number.isInteger(v) ? gCols[v - 1] : "" }
      },
      y: {
        min: -0.219, max: 20.4, reverse: true, afterBuildTicks: setTicks(halfStep(0.5, 20)),
        border: { display: false }, grid: gGrid,
        ticks: { autoSkip: false, padding: 9, color: GREY_TXT, font: { size: 27.5 }, callback: v => Number.isInteger(v) ? gRows[v - 1] : "" },
        title: yTitle("Ligand-receptor interaction", 35, 1148, 1110)
      }
    }
  },
  plugins: [halves]
});
txt("Sender cell types", 1510, 1530, { size: 24.5 });
box(1409, 1549, 201, 2, "background:#000");
txt("Scaled mean", 1039, 1537, { size: 15.5, anchor: "l", color: "#222" });
txt("expression", 1039, 1556, { size: 15.5, anchor: "l", color: "#222" });
const domes = {
  id: "domes",
  afterDatasetsDraw(chart) {
    const ctx = chart.ctx, ca = chart.chartArea;
    const h = (ca.bottom - ca.top) / 4;
    ctx.strokeStyle = "#c4c4c4"; ctx.lineWidth = 3;
    for (let i = 0; i < 4; i++) ctx.strokeRect(ca.left + 1.5, ca.top + i * h + 1.5, ca.right - ca.left - 3, h);
    chart.getDatasetMeta(0).data.forEach((p, i) => {
      ctx.fillStyle = "#0a0a0a";
      ctx.beginPath(); ctx.arc(p.x, p.y + 2, gRadius(gSizeLegend[i]), Math.PI, 2 * Math.PI); ctx.closePath(); ctx.fill();
    });
  }
};
new Chart(canvasAt(1062, 1582, 1101, 1712), {
  type: "scatter",
  data: { datasets: [{ data: gSizeLegend.map((v, i) => ({ x: 0, y: i + 1 })), pointRadius: 0 }] },
  options: { scales: { x: hiddenScale(-1, 1), y: hiddenScale(0.5, 4.5, true) } },
  plugins: [domes]
});
[1596.5, 1627.6, 1659, 1692].forEach((y, i) => txt(String(gSizeLegend[i]), 1106, y, { size: 17, anchor: "l", color: "#222" }));
function lfcBar(x, w, textX, title, colTop, colBottom) {
  txt("Scaled LFC", x, 1537, { size: 15.5, anchor: "l", color: "#222" });
  txt(title, x, 1556, { size: 15.5, anchor: "l", color: "#222" });
  box(x, 1583, w, 135, `background:linear-gradient(${colTop},${colBottom})`);
  gLfcTicks.forEach((t, i) => {
    const y = 1583 + i * 33.75;
    txt(t, textX, y, { size: 14, anchor: "l", color: "#222" });
    if (i > 0 && i < 4) { box(x, y, 5, 1, "background:#fff"); box(x + w - 5, y, 5, 1, "background:#fff"); }
  });
}
lfcBar(1161, 27, 1197.5, "(ligand)", "#12336B", "#DFE6F4");
lfcBar(1287, 27, 1323, "(receptor)", "#A01C20", "#F9D8C8");

// ---- panel H
const hLayoutX = [0.258, 0.684, 0.110, 0.693, 0.145, 0.688, 0.437, 0.915];
const hLayoutY = [0.086, 0.133, 0.337, 0.387, 0.589, 0.567, 0.934, 0.778];
const hFill = { ligand: "#BC1A22", tr: "#999999", target: "#1F5A9F" };
const hRed = "#D0212A", hBlue = "#2360A5", hRad = 54;
const hPlugin = {
  id: "grn",
  beforeDatasetsDraw(chart) {
    const ctx = chart.ctx, pts = chart.getDatasetMeta(0).data;
    const draw = (pair, color, both) => {
      const a = pts[hNodes.indexOf(pair[0])], b = pts[hNodes.indexOf(pair[1])];
      const ang = Math.atan2(b.y - a.y, b.x - a.x), ux = Math.cos(ang), uy = Math.sin(ang);
      const x0 = a.x + ux * hRad, y0 = a.y + uy * hRad, x1 = b.x - ux * hRad, y1 = b.y - uy * hRad;
      ctx.strokeStyle = color; ctx.lineWidth = 2;
      ctx.beginPath(); ctx.moveTo(x0, y0); ctx.lineTo(x1, y1); ctx.stroke();
      arrowHead(ctx, x1, y1, ang, 17, 13, color);
      if (both) arrowHead(ctx, x0, y0, ang + Math.PI, 17, 13, color);
    };
    hOneWay.forEach(p => draw(p, hRed, false));
    hBothWays.forEach(p => draw(p, hRed, true));
    hToTarget.forEach(p => draw(p, hBlue, false));
  },
  afterDatasetsDraw(chart) {
    const ctx = chart.ctx;
    ctx.font = "26px " + FONT; ctx.fillStyle = "#fff"; ctx.textAlign = "center"; ctx.textBaseline = "middle";
    chart.getDatasetMeta(0).data.forEach((p, i) => ctx.fillText(hNodes[i], p.x, p.y + 1));
  }
};
new Chart(canvasAt(1640, 1540, 2449, 2537), {
  type: "scatter",
  data: {
    datasets: [{
      data: hNodes.map((n, i) => ({ x: hLayoutX[i], y: hLayoutY[i] })),
      backgroundColor: hKinds.map(k => hFill[k]), pointRadius: hRad, borderWidth: 0
    }]
  },
  options: { scales: { x: hiddenScale(0, 1), y: hiddenScale(0, 1, true) } },
  plugins: [hPlugin]
});
[[1704, hFill.ligand], [1758, hFill.target], [1811, hFill.tr]].forEach(s => box(2271, s[0], 44, 43, `background:${s[1]};border:2px solid #111;border-radius:7px`));
[["ligand", 1726], ["target", 1780], ["transcriptional", 1824], ["regulator", 1846]].forEach(l => txt(l[0], 2326, l[1], { size: 18, anchor: "l", color: "#222" }));
</script>
</body>
</html>
